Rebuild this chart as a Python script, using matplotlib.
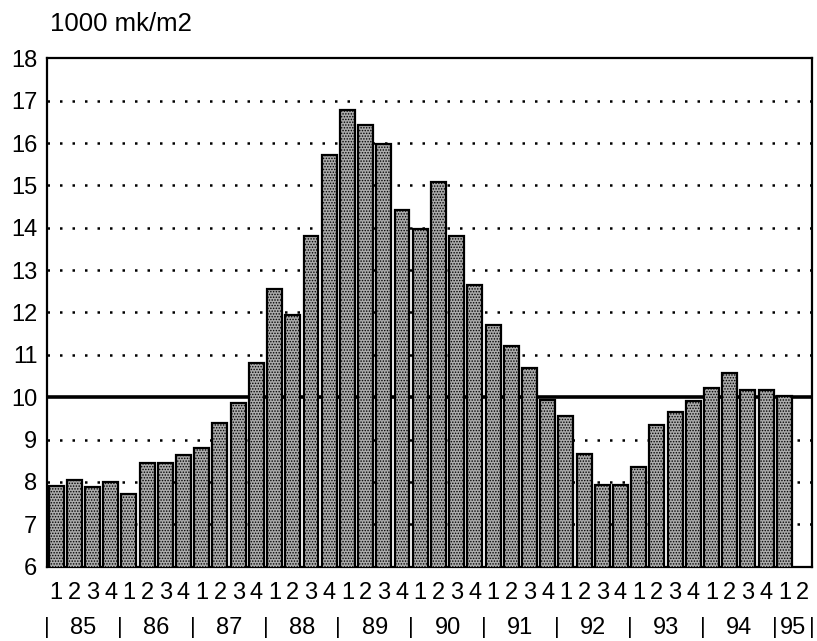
import numpy as np
import matplotlib
matplotlib.use("Agg")
import matplotlib.pyplot as plt

plt.rcParams['font.family'] = ['Liberation Sans', 'DejaVu Sans']
plt.rcParams['hatch.linewidth'] = 0.7

# quarterly values 1985 Q1 .. 1995 Q2 (last quarter has no bar)
years = ["85", "86", "87", "88", "89", "90", "91", "92", "93", "94", "95"]
quarters = ["1", "2", "3", "4"] * 10 + ["1", "2"]
values = [7.90, 8.05, 7.87, 8.01, 7.71,
          8.44, 8.44, 8.64, 8.81, 9.38,
          9.86, 10.81, 12.56, 11.93, 13.80,
          15.72, 16.78, 16.42, 15.98, 14.41,
          13.96, 15.07, 13.80, 12.66, 11.71,
          11.22, 10.68, 9.93, 9.56, 8.66,
          7.92, 7.92, 8.35, 9.34, 9.66,
          9.90, 10.22, 10.56, 10.18, 10.16,
          10.03, np.nan]
ref_level = 10

fig = plt.figure(figsize=(8.17, 6.41), dpi=100)
ax = fig.add_axes([0.0575, 0.116, 0.936, 0.793])

x = np.arange(len(quarters))
ax.bar(x, values, width=0.82, color="#ababab", edgecolor="black",
       linewidth=1.6, hatch="......", zorder=3)

# dotted grid, thick line at reference level
for v in range(7, 18):
    if v == ref_level:
        continue
    ax.axhline(v, color="black", linewidth=1.8, linestyle=(0, (1, 4)), zorder=1)
ax.axhline(ref_level, color="black", linewidth=2.6, zorder=2)

ax.set_xlim(-0.5, len(quarters) - 0.5)
ax.set_ylim(6, 18)
ax.set_yticks(range(6, 19))
ax.tick_params(axis="y", length=0, pad=7, labelsize=17)
ax.set_xticks(x)
ax.set_xticklabels(quarters)
ax.tick_params(axis="x", length=0, pad=11, labelsize=17)
for s in ax.spines.values():
    s.set_linewidth(1.6)

# year row with separators
trans = ax.get_xaxis_transform()
yrow = -0.12
for i, yr in enumerate(years):
    start = i * 4 - 0.5
    n = 4 if i < len(years) - 1 else 2
    ax.text(start + n / 2, yrow, yr, transform=trans, ha="center", va="center",
            fontsize=17)
    ax.text(start, yrow, "|", transform=trans, ha="center", va="center", fontsize=16)
ax.text(len(quarters) - 0.5, yrow, "|", transform=trans, ha="center", va="center",
        fontsize=16)

fig.text(0.061, 0.963, "1000 mk/m2", ha="left", va="center", fontsize=18.5)

fig.savefig("out.png", dpi=100)
